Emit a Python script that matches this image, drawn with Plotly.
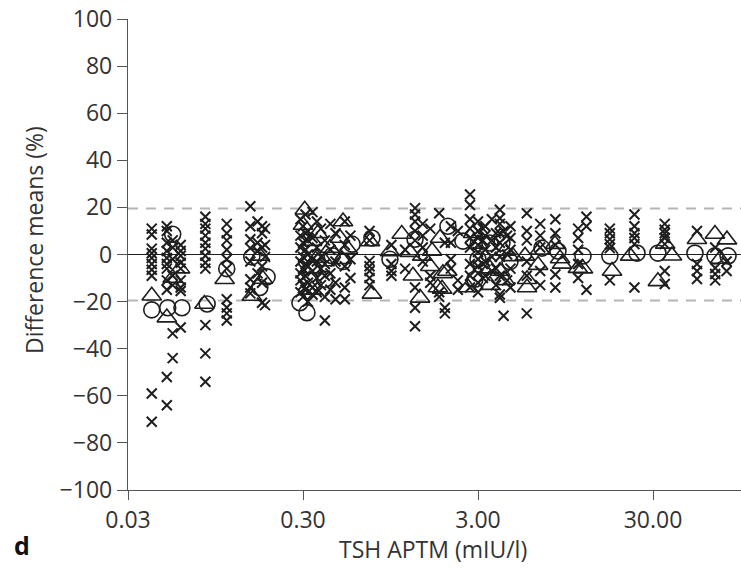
import math
import plotly.graph_objects as go

# ---- data ----
x_tick_vals = [0.03, 0.3, 3, 30]
x_tick_text = ["0.03", "0.30", "3.00", "30.00"]
limit_upper = 19.5
limit_lower = -19.5

cross_x = [
    0.041, 0.041, 0.041, 0.041, 0.041, 0.041, 0.041, 0.041, 0.041, 0.041,
    0.050, 0.050, 0.050, 0.050, 0.050, 0.050, 0.050, 0.050, 0.050, 0.050, 0.050,
    0.054, 0.054, 0.054, 0.054, 0.054, 0.054, 0.054,
    0.060, 0.060, 0.060, 0.060, 0.060, 0.060, 0.060, 0.060, 0.060,
    0.083, 0.083, 0.083, 0.083, 0.083, 0.083, 0.083, 0.083, 0.083, 0.083, 0.083, 0.083,
    0.110, 0.110, 0.110, 0.110, 0.110, 0.110, 0.110, 0.110, 0.110, 0.110,
    0.150, 0.150, 0.150, 0.150, 0.150, 0.150, 0.150, 0.150,
    0.165, 0.165, 0.165, 0.165,
    0.175, 0.175, 0.175, 0.175, 0.175, 0.175,
    0.182, 0.182, 0.182, 0.182,
    0.29, 0.29, 0.29, 0.29, 0.29, 0.29, 0.29,
    0.30, 0.30, 0.30, 0.30, 0.30, 0.30,
    0.31, 0.31, 0.31, 0.31, 0.31, 0.31,
    0.32, 0.32, 0.32, 0.32, 0.32, 0.32,
    0.34, 0.34, 0.34, 0.34, 0.34, 0.34,
    0.36, 0.36, 0.36, 0.36, 0.36,
    0.38, 0.38, 0.38, 0.38,
    0.40, 0.40, 0.40, 0.40, 0.40,
    0.43, 0.43, 0.43, 0.43,
    0.46, 0.46, 0.46, 0.46,
    0.52, 0.52, 0.52, 0.52, 0.52,
    0.56, 0.56, 0.56,
    0.72, 0.72, 0.72, 0.72, 0.72, 0.72, 0.72,
    0.96, 0.96, 0.96, 0.96,
    1.15, 1.15,
    1.31, 1.31, 1.31, 1.31, 1.31, 1.31, 1.31, 1.31,
    1.45, 1.45, 1.45, 1.45,
    1.60, 1.60, 1.60,
    1.80, 1.80, 1.80,
    1.94, 1.94, 1.94,
    2.10, 2.10, 2.10, 2.10,
    2.30, 2.30, 2.30,
    2.70, 2.70, 2.70, 2.70, 2.70, 2.70, 2.70, 2.70, 2.70,
    3.00, 3.00, 3.00, 3.00, 3.00, 3.00, 3.00, 3.00, 3.00, 3.00,
    3.20, 3.20, 3.20, 3.20,
    3.30, 3.30, 3.30, 3.30, 3.30,
    3.60, 3.60, 3.60, 3.60,
    3.80, 3.80, 3.80, 3.80,
    4.00, 4.00, 4.00, 4.00, 4.00, 4.00, 4.00, 4.00, 4.00,
    4.20, 4.20,
    4.40, 4.40, 4.40,
    4.60, 4.60, 4.60, 4.60, 4.60,
    5.70, 5.70, 5.70, 5.70, 5.70, 5.70,
    6.80, 6.80, 6.80, 6.80, 6.80,
    8.30, 8.30, 8.30, 8.30, 8.30,
    11.2, 11.2, 11.2, 11.2, 11.2,
    12.5, 12.5, 12.5,
    17.0, 17.0, 17.0, 17.0, 17.0, 17.0,
    23.5, 23.5, 23.5, 23.5, 23.5, 23.5,
    35.0, 35.0, 35.0, 35.0, 35.0, 35.0, 35.0,
    53.5, 53.5, 53.5, 53.5,
    68.0, 68.0, 68.0, 68.0,
    79.0, 79.0,
]
cross_y = [
    11, 8.5, 2.5, 0.5, -1.5, -4, -6.5, -9, -59, -71,
    12, 10, 5, 1.5, -1.5, -4, -6, -11, -15, -52, -64,
    6, 3, -2, -9, -13, -33.5, -44,
    4, 1.5, -0.5, -3.5, -6, -11, -14, -15.5, -31,
    16, 13, 11, 8, 5, 2.5, -0.5, -3.5, -6, -30, -42, -54,
    13, 9, 6, 2, -2, -6, -19, -22.5, -25, -28,
    20.5, 12, 6.5, 2.7, -3, -10.5, -14, -16.5,
    14, 5, 1.5, -8,
    12, 9, 3, -5, -12, -20.5,
    11, 4, -1, -21.5,
    15, 8, 3, -3, -8, -11, -16,
    12, 5, -1, -6, -13, -18,
    17, 9, 2, -4, -9, -15,
    10, 6, 0, -5, -12, -20,
    18, 7, -2, -7, -14, -17,
    14, 3, -3, -10, -16,
    11, -1, -6, -13,
    6, -4, -9, -18, -28,
    13, 2, -8, -15,
    9, -3, -12, -19,
    14, 4, -5, -14, -19,
    8, -2, -10,
    10, 6, -2.7, -5, -7, -10, -13,
    4, -4, -7, -9,
    -6, 2,
    19.7, 17, 14, 10, 6, -14, -22.6, -30.5,
    13, 8, 3, -3,
    -9, -12, 11,
    17.5, -16, -18,
    -22.6, -25, 5,
    12, 5, -2, -6,
    -11, -15, 10,
    25.5, 21, 15, 11, 7, 3, -4, -9, -14,
    14, 10, 7, 4, 1, -2, -5, -8, -12, -16,
    11, 6, -4, -10,
    12, 8, 2, -3, -9,
    15, 6, -1, -7,
    9, 3, -6, -13,
    19, 15.4, 13, 9, 5, -1, -9, -18.4, -17,
    -26, 10,
    8, 0, -11,
    12, 7, 2, -6, -14,
    17.5, 10, 6, -3, -9, -25,
    13, 8, 3, -7, -13,
    15, 9, 4, -8.5, -14,
    11, 7, 2, -4, -10,
    16, 12, -15,
    11, 9, 6.5, 4.4, 2.7, -11,
    17, 12, 9, 7, 4.4, -14,
    13, 10.5, 9, 7, 4.4, -7, -12.5,
    10, -4, -7, -10.4,
    3, -5.7, -8.3, -11,
    -7, -3,
]

circle_x = [0.041, 0.0506, 0.061, 0.054, 0.085, 0.110, 0.153, 0.187, 0.170,
            0.288, 0.316, 0.40, 0.508, 0.44, 0.572, 0.743, 0.942, 1.31,
            2.02, 2.46, 2.88, 3.51, 4.11, 3.00, 4.57, 6.96, 8.59, 11.94,
            17.0, 24.3, 32.0, 52.1, 67.8, 80.5]
circle_y = [-23.5, -22.6, -22.6, 8.6, -21, -6, -1, -9.5, -14,
            -20.5, -24.7, -10.5, -3, -0.5, 4.4, 7, -2, 6.5,
            12, 5.7, -10.5, 4.9, 4.9, -2, -3, 2.7, 1.5, -0.6,
            -0.6, 0.6, 0.6, 0.6, -0.6, -0.6]

tri_x = [0.041, 0.050, 0.054, 0.0595, 0.082, 0.107, 0.170, 0.177, 0.153,
         0.307, 0.300, 0.365, 0.338, 0.428, 0.508, 0.488, 0.542, 0.360,
         0.342, 0.338, 0.400, 0.500, 0.724, 0.743, 0.942, 1.10, 1.226,
         1.275, 1.40, 1.44, 1.60, 1.64, 1.82, 1.87, 2.00, 1.89, 1.77,
         2.63, 2.81, 3.00, 3.51, 3.51, 4.28, 4.28, 4.01, 4.75, 5.72,
         5.72, 5.57, 6.61, 6.78, 8.26, 8.83, 9.06, 11.17, 11.94, 17.5,
         22.2, 32.0, 35.2, 38.5, 53.5, 67.8, 72.4, 79.4]
tri_y = [-17.5, -26.8, -10, -6, -21, -10.5, -0.6, -10.4, -17.6,
         19, 12.5, 9, 5.7, 2.7, 14, 7, 2.3, -1.5,
         -6, -15, -3, -2, 5.5, -16.7, 1.3, 8.7, 1,
         -9, -18.4, -0.6, -5, 1.5, 7, -14.6, -7, -8, -14,
         -14, 9, 4.5, -6, -13, 1.5, -11, -7, -0.8, -10.5,
         -14, -0.6, -4.5, 2, 4.4, -1.7, -4, -5.8, -6, -7,
         -0.6, -11.4, 4.5, -0.5, 6.5, 8.7, -1.9, 6.3]

# ---- figure ----
ink = "#1e1e1e"
text_col = "#333333"
font_family = "Open Sans, DejaVu Sans, sans-serif"
fs = 23

fig = go.Figure()
fig.add_trace(go.Scatter(
    x=cross_x, y=cross_y, mode="markers", name="x",
    marker=dict(symbol="x-thin-open", size=10, color=ink, line=dict(color=ink, width=2)),
))
fig.add_trace(go.Scatter(
    x=circle_x, y=circle_y, mode="markers", name="o",
    marker=dict(symbol="circle-open", size=16, color=ink, line=dict(color=ink, width=1.6)),
))
fig.add_trace(go.Scatter(
    x=tri_x, y=tri_y, mode="markers", name="t",
    marker=dict(symbol="triangle-up-open", size=17, color=ink, line=dict(color=ink, width=1.6)),
))

for yv in (limit_upper, limit_lower):
    fig.add_shape(type="line", xref="paper", x0=0, x1=1, yref="y", y0=yv, y1=yv,
                  line=dict(color="#b5b5b5", width=2, dash="10px,8px"), layer="below")
fig.add_shape(type="line", xref="paper", x0=0, x1=1, yref="y", y0=0, y1=0,
              line=dict(color=ink, width=1.2), layer="below")

x_lo = math.log10(0.03)
x_hi = x_lo + 613 / 175

plot_top, plot_bottom = 19, 490
plot_h = plot_bottom - plot_top

fig.update_layout(
    width=741, height=575,
    margin=dict(l=128, r=0, t=plot_top, b=575 - plot_bottom),
    paper_bgcolor="white", plot_bgcolor="white",
    showlegend=False,
    font=dict(family=font_family, size=fs, color=text_col),
    xaxis=dict(type="log", range=[x_lo, x_hi], tickvals=x_tick_vals, ticktext=x_tick_text,
               showgrid=False, zeroline=False, showline=True, linecolor="#555555", linewidth=1.4,
               ticks="outside", ticklen=9, tickcolor="#555555", tickwidth=1.4,
               tickfont=dict(size=fs, color=text_col)),
    yaxis=dict(range=[-100, 100], dtick=20, tick0=0,
               showgrid=False, zeroline=False, showline=True, linecolor="#555555", linewidth=1.4,
               ticks="outside", ticklen=10, tickcolor="#555555", tickwidth=1.4,
               tickfont=dict(size=fs, color=text_col)),
    annotations=[
        dict(text="Difference means (%)", textangle=-90, xref="paper", yref="paper",
             x=(34 - 128) / 613, y=(plot_bottom - 240) / plot_h, xanchor="center", yanchor="middle",
             showarrow=False, font=dict(size=fs, color=text_col)),
        dict(text="TSH APTM (mIU/l)", xref="paper", yref="paper",
             x=(433 - 128) / 613, y=(plot_bottom - 549) / plot_h, xanchor="center", yanchor="middle",
             showarrow=False, font=dict(size=fs, color=text_col)),
        dict(text="<b>d</b>", xref="paper", yref="paper",
             x=(22 - 128) / 613, y=(plot_bottom - 545) / plot_h, xanchor="center", yanchor="middle",
             showarrow=False, font=dict(size=25, color="#111111")),
    ],
)

fig.write_html("out.html", config={"displayModeBar": False},
               post_script="document.body.style.margin='0';document.body.style.overflow='hidden';")
